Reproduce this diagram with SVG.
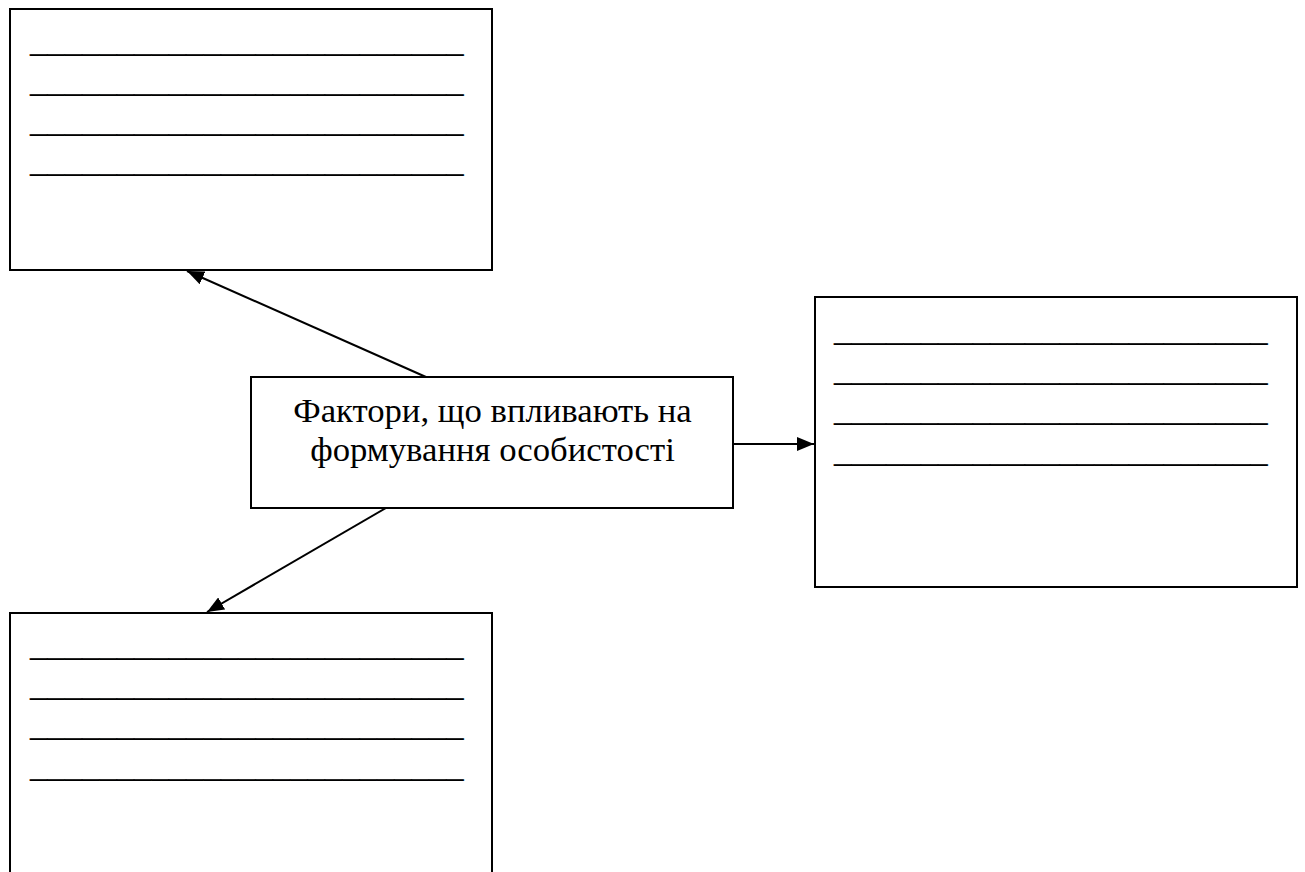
<svg xmlns="http://www.w3.org/2000/svg" width="1305" height="872" viewBox="0 0 1305 872">
  <defs>
    <style>
      .box { fill: #ffffff; stroke: #000000; stroke-width: 2; }
      .ln { font-family: "Liberation Serif", "Times New Roman", serif; font-size: 34.7px; fill: #000000; stroke: #000000; stroke-width: 0.2; }
      .title { font-family: "Liberation Serif", "Times New Roman", serif; font-size: 34.7px; fill: #000000; text-anchor: middle; }
      .conn { stroke: #000000; stroke-width: 2; fill: none; marker-end: url(#arrow); }
    </style>
    <marker id="arrow" markerUnits="userSpaceOnUse" markerWidth="17" markerHeight="14" refX="17" refY="7" orient="auto">
      <path d="M0,0 L17,7 L0,14 Z" fill="#000000"/>
    </marker>
  </defs>
  <rect width="1305" height="872" fill="#ffffff"/>

  <g id="node-top-left">
    <rect class="box" x="10" y="9" width="482" height="261"/>
    <text class="ln" x="30" y="52">_________________________</text>
    <text class="ln" x="30" y="92">_________________________</text>
    <text class="ln" x="30" y="132">_________________________</text>
    <text class="ln" x="30" y="172">_________________________</text>
  </g>

  <g id="node-center">
    <rect class="box" x="251" y="377" width="482" height="131"/>
    <text class="title" x="492.5" y="422">Фактори, що впливають на</text>
    <text class="title" x="492.5" y="461">формування особистості</text>
  </g>

  <g id="node-right">
    <rect class="box" x="815" y="297" width="482" height="290"/>
    <text class="ln" x="834" y="341">_________________________</text>
    <text class="ln" x="834" y="381">_________________________</text>
    <text class="ln" x="834" y="421">_________________________</text>
    <text class="ln" x="834" y="462">_________________________</text>
  </g>

  <g id="node-bottom-left">
    <rect class="box" x="10" y="613" width="482" height="275"/>
    <text class="ln" x="30" y="656">_________________________</text>
    <text class="ln" x="30" y="696">_________________________</text>
    <text class="ln" x="30" y="736">_________________________</text>
    <text class="ln" x="30" y="777">_________________________</text>
  </g>

  <g id="connectors">
    <line class="conn" x1="426" y1="377" x2="187" y2="271"/>
    <line class="conn" x1="386" y1="508" x2="207" y2="612"/>
    <line class="conn" x1="734" y1="444" x2="814" y2="444"/>
  </g>
</svg>
